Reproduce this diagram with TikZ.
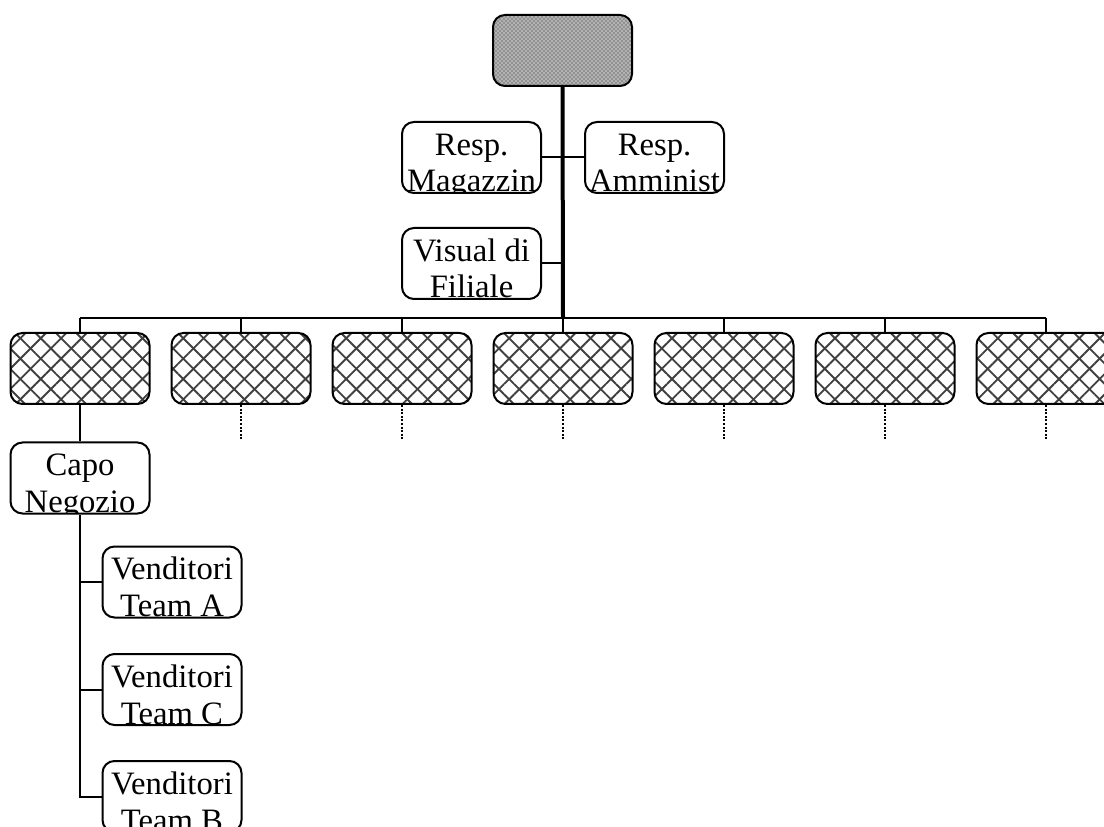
\documentclass[tikz,border=0pt]{standalone}
\usepackage{fontspec}
\setmainfont{Liberation Serif}
\usetikzlibrary{patterns,patterns.meta}
\tikzset{
  box/.style={draw, rounded corners=9pt, line width=1.5pt, minimum width=104.25pt, minimum height=53.25pt, inner sep=0pt},
  lbl/.style 2 args={fill=white, path picture={
     \node[anchor=base, inner sep=0pt, font=\fontsize{24.5pt}{29pt}\selectfont] at ([yshift=-25pt]path picture bounding box.north) {#1};
     \node[anchor=base, inner sep=0pt, font=\fontsize{24.5pt}{29pt}\selectfont] at ([yshift=-52.5pt]path picture bounding box.north) {#2};}},
  hatched/.style={box, preaction={fill=white},
     preaction={pattern={Lines[angle=45,distance=10.8pt,line width=1.4pt]}, pattern color=black!75},
     preaction={pattern={Lines[angle=-45,distance=10.8pt,line width=1.4pt]}, pattern color=black!75}},
  topbox/.style={box, preaction={fill=gray!60}, preaction={pattern=crosshatch dots, pattern color=black!85}},
  conn/.style={line width=1.5pt},
  mainline/.style={line width=3pt},
  dots/.style={line width=1.5pt, dash pattern=on 1.5pt off 1.2pt},
}
\begin{document}
\begin{tikzpicture}[x=0.75pt,y=-0.75pt]
\useasboundingbox (0,0) rectangle (1104,827);
% top
\node[topbox] (top) at (562.5,50.5) {};
\node[box, lbl={Resp.}{Magazzin}] (mag) at (471.5,157.5) {};
\node[box, lbl={Resp.}{Amminist}] (amm) at (654.5,157.5) {};
\node[box, lbl={Visual di}{Filiale}] (vis) at (471.5,263.5) {};
% hatched row
\foreach \i/\x in {1/80,2/241,3/402,4/563,5/724,6/885,7/1046} {
  \node[hatched] (h\i) at (\x,368.5) {};
}
\node[box, lbl={Capo}{Negozio}] (capo) at (80,478) {};
\node[box, lbl={Venditori}{Team A}] (va) at (172,582) {};
\node[box, lbl={Venditori}{Team C}] (vc) at (172,689.5) {};
\node[box, lbl={Venditori}{Team B}] (vb) at (172,796.5) {};
% connectors
\coordinate (bar) at (563,318);
\coordinate (visj) at (563,263.5);
\coordinate (barL) at (80,318);
\coordinate (barR) at (1046,318);
\draw[mainline] (top.south) -- (bar);
\draw[conn] (mag.east) -- (amm.west);
\draw[conn] (vis.east) -- (visj);
\draw[conn] (barL) -- (barR);
\foreach \i in {1,...,7} { \draw[conn] (h\i.north |- bar) -- (h\i.north); }
\foreach \i in {2,...,7} {
  \coordinate (d\i) at ([yshift=-27pt]h\i.south);
  \draw[dots] (h\i.south) -- (d\i);
}
\draw[conn] (h1.south) -- (capo.north);
\coordinate (lv) at (capo.south |- vb.west);
\draw[conn] (capo.south) -- (lv) -- (vb.west);
\draw[conn] (capo.south |- va.west) -- (va.west);
\draw[conn] (capo.south |- vc.west) -- (vc.west);
\end{tikzpicture}
\end{document}
